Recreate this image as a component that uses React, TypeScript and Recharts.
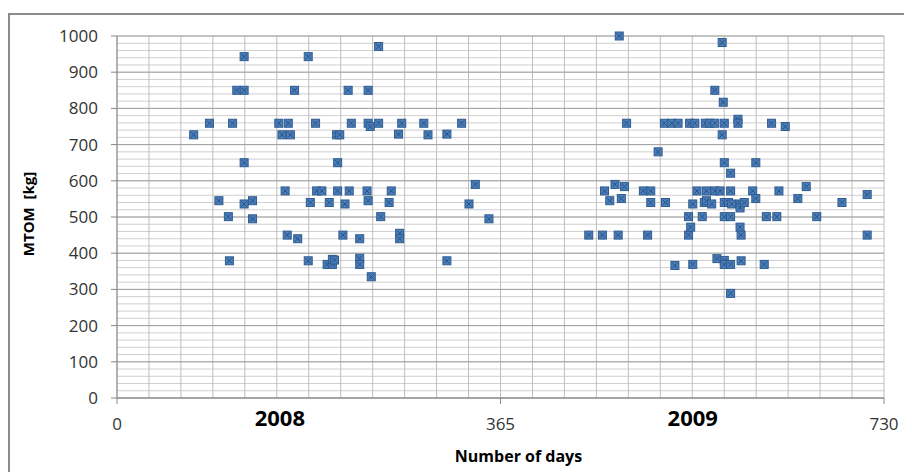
import {
  CartesianGrid,
  Label,
  ReferenceDot,
  Scatter,
  ScatterChart,
  XAxis,
  YAxis,
} from "recharts";

// day of the two-year window (0..730) and MTOM in kg
const DAYS_2008 = [
  73, 88, 97, 106, 107, 110, 114, 121, 121, 121, 121, 129, 129, 154, 157, 160,
  162, 163, 165, 169, 172, 182, 182, 184, 189, 190, 195, 200, 202, 205, 205, 207,
  209, 210, 210, 212, 215, 217, 220, 221, 223, 231, 231, 231, 238, 239, 239, 239,
  241, 242, 249, 249, 251, 259, 261, 268, 269, 269, 271, 292, 296, 314, 314, 328,
  335, 341, 354,
];
const MTOM_2008 = [
  727, 759, 545, 501, 379, 759, 850, 850, 943, 650, 536, 545, 495, 759, 727, 572,
  450, 759, 727, 850, 440, 943, 379, 540, 759, 572, 572, 369, 540, 369, 383, 381,
  727, 650, 572, 727, 450, 536, 850, 572, 759, 440, 386, 369, 572, 850, 759, 545,
  750, 335, 971, 759, 501, 540, 572, 729, 455, 440, 759, 759, 727, 729, 379, 759,
  536, 590, 495,
];

const DAYS_2009 = [
  449, 462, 464, 469, 474, 477, 478, 480, 483, 485, 501, 505, 508, 508, 515, 521,
  522, 528, 531, 534, 544, 544, 545, 546, 548, 548, 550, 552, 557, 559, 560, 561,
  561, 564, 566, 569, 569, 569, 571, 574, 576, 576, 577, 578, 578, 578, 578, 578,
  578, 582, 584, 584, 584, 584, 584, 585, 591, 591, 593, 593, 593, 594, 594, 597,
  605, 608, 608, 616, 618, 623, 628, 630, 636, 648, 656, 666, 690, 714, 714,
];
const MTOM_2009 = [
  450, 450, 572, 545, 590, 450, 1000, 551, 584, 759, 572, 450, 572, 540, 680, 759,
  540, 759, 366, 759, 501, 450, 759, 472, 536, 369, 759, 572, 501, 540, 759, 572,
  545, 759, 536, 759, 850, 572, 385, 572, 982, 727, 817, 759, 650, 540, 501, 380,
  369, 540, 572, 501, 369, 621, 289, 536, 770, 759, 536, 525, 472, 450, 379, 540,
  572, 650, 551, 369, 501, 759, 501, 572, 750, 551, 584, 501, 540, 562, 450,
];

const X_TICKS = [0, 365, 730];
const Y_TICKS = [0, 100, 200, 300, 400, 500, 600, 700, 800, 900, 1000];
const YEAR_LABELS = ["2008", "2009"];
const YEAR_LABEL_DAYS = [155, 548];

const toPoints = (days: number[], kg: number[]) =>
  days.map((d, i) => ({ day: d, kg: kg[i] }));

const data2008 = toPoints(DAYS_2008, MTOM_2008);
const data2009 = toPoints(DAYS_2009, MTOM_2009);

// grid: every 20 kg (major every 100), one vertical line per month
const MINOR_KG = Array.from({ length: 51 }, (_, i) => i * 20);
const MONTH_LINES = Array.from({ length: 25 }, (_, i) => (i * 730) / 24);

const AXIS = "#868686";
const FILL = "#4A7EBB";
const EDGE = "#2F5B8E";

function Marker(props: any) {
  const { cx, cy } = props;
  if (cx == null || cy == null) return null;
  const h = 4;
  const k = 2.5;
  return (
    <g>
      <rect x={cx - h} y={cy - h} width={h * 2} height={h * 2} fill={FILL} stroke={EDGE} strokeWidth={1} />
      <path
        d={`M${cx - k},${cy - k}L${cx + k},${cy + k}M${cx + k},${cy - k}L${cx - k},${cy + k}`}
        stroke="#2A5080"
        strokeWidth={1}
      />
    </g>
  );
}

function YTitle(props: any) {
  const { x, y, height } = props.viewBox;
  const cx = x + 20;
  const cy = y + height / 2 - 3;
  return (
    <text
      x={cx}
      y={cy}
      transform={`rotate(-90, ${cx}, ${cy})`}
      textAnchor="middle"
      dominantBaseline="central"
      fontSize={15}
      fontWeight={700}
      fill="#000"
    >
      {"MTOM\u00a0 [kg]"}
    </text>
  );
}

function XTitle(props: any) {
  const { x, y, width } = props.viewBox;
  return (
    <text
      x={x + width / 2 + 18}
      y={y + 64}
      textAnchor="middle"
      fontSize={16}
      fontWeight={700}
      fill="#000"
    >
      Number of days
    </text>
  );
}

export default function App() {
  return (
    <div
      style={{
        position: "relative",
        width: 904,
        height: 464,
        overflow: "hidden",
        fontFamily: "'Open Sans', sans-serif",
      }}
    >
      <style>{`html,body{overflow:hidden}`}</style>
      <div
        style={{
          position: "absolute",
          left: 0,
          top: 5,
          width: 920,
          height: 480,
          border: "2px solid #8c8c8c",
          boxSizing: "border-box",
        }}
      />
      <div style={{ position: "absolute", left: 0, top: 0 }}>
        <ScatterChart
          width={904}
          height={464}
          margin={{ top: 28, right: 28, bottom: 0, left: 0 }}
        >
          <CartesianGrid stroke="#cfcfcf" horizontalValues={MINOR_KG} vertical={false} />
          <CartesianGrid stroke="#bdbdbd" verticalValues={MONTH_LINES} horizontal={false} />
          <CartesianGrid stroke="#a0a0a0" horizontalValues={Y_TICKS} vertical={false} />
          <XAxis
            type="number"
            dataKey="day"
            domain={[0, 730]}
            ticks={X_TICKS}
            interval={0}
            height={74}
            stroke={AXIS}
            tickSize={6}
            tickMargin={14}
            tick={{ fill: "#333", fontSize: 17 }}
          >
            <Label content={XTitle} />
          </XAxis>
          <YAxis
            type="number"
            dataKey="kg"
            domain={[0, 1000]}
            ticks={Y_TICKS}
            interval={0}
            width={109}
            stroke={AXIS}
            tickSize={6}
            tickMargin={13}
            tick={{ fill: "#333", fontSize: 17 }}
          >
            <Label content={YTitle} />
          </YAxis>
          {YEAR_LABELS.map((year, i) => (
            <ReferenceDot
              key={year}
              x={YEAR_LABEL_DAYS[i]}
              y={0}
              r={0}
              fill="none"
              stroke="none"
              label={{
                value: year,
                position: "bottom",
                offset: 12,
                fill: "#000",
                fontSize: 22,
                fontWeight: 700,
              }}
            />
          ))}
          <Scatter data={data2008} shape={Marker} isAnimationActive={false} />
          <Scatter data={data2009} shape={Marker} isAnimationActive={false} />
        </ScatterChart>
      </div>
    </div>
  );
}
